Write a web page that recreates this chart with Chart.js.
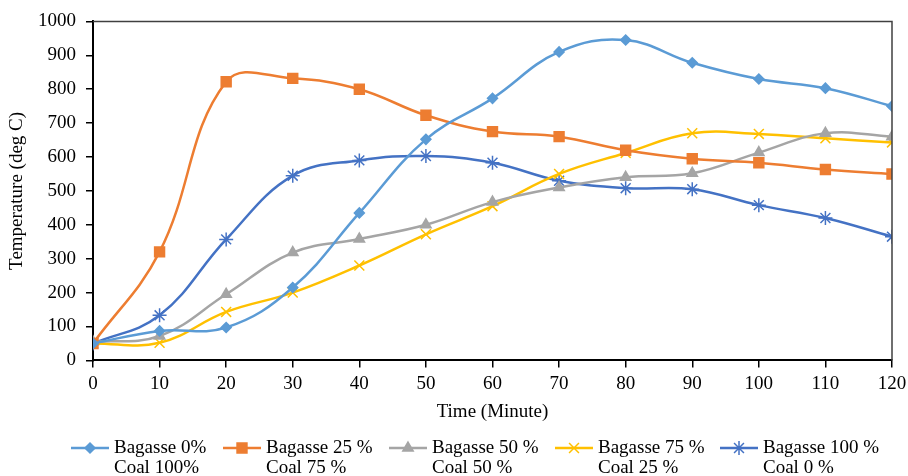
<!DOCTYPE html>
<html>
<head>
<meta charset="utf-8">
<script src="https://cdn.jsdelivr.net/npm/chart.js@4"></script>
<style>
  html, body { margin: 0; padding: 0; background: #fff; }
  #wrap { width: 908px; height: 476px; }
</style>
</head>
<body>
<div id="wrap"><canvas id="tempChart"></canvas></div>
<script>
// Time axis (minutes) and temperature readings per blend
const minutes = [0, 10, 20, 30, 40, 50, 60, 70, 80, 90, 100, 110, 120];
const bagasse0 = [50, 87, 97, 215, 435, 652, 773, 910, 945, 878, 830, 803, 750];
const bagasse25 = [50, 320, 822, 832, 800, 723, 675, 660, 620, 595, 583, 563, 550];
const bagasse50 = [55, 72, 195, 318, 358, 400, 467, 510, 540, 552, 613, 670, 660];
const bagasse75 = [50, 52, 143, 200, 280, 372, 455, 550, 612, 670, 668, 655, 643];
const bagasse100 = [50, 133, 357, 545, 590, 603, 583, 530, 508, 505, 458, 420, 365];
const seriesLabels = [
  ['Bagasse 0%', 'Coal 100%'],
  ['Bagasse 25 %', 'Coal 75 %'],
  ['Bagasse 50 %', 'Coal 50 %'],
  ['Bagasse 75 %', 'Coal 25 %'],
  ['Bagasse 100 %', 'Coal 0 %'],
];
const colors = ['#5B9BD5', '#ED7D31', '#A5A5A5', '#FFC000', '#4472C4'];
const markers = ['rectRot', 'rect', 'triangle', 'crossRot', 'star'];
const markerSize = [5, 7, 6, 7, 7];
const allValues = [bagasse0, bagasse25, bagasse50, bagasse75, bagasse100];

const FONT = "'Liberation Serif', 'Times New Roman', serif";

const toXY = arr => arr.map((v, i) => ({ x: minutes[i], y: v }));

// frame on top/right + two-line legend like the Excel one
const framePlugin = {
  id: 'frame',
  afterDraw(chart) {
    const { ctx, chartArea: a } = chart;
    ctx.save();
    ctx.strokeStyle = '#404040';
    ctx.lineWidth = 1.5;
    ctx.beginPath();
    ctx.moveTo(a.left, a.top);
    ctx.lineTo(a.right, a.top);
    ctx.lineTo(a.right, a.bottom);
    ctx.stroke();

    ctx.font = '19px ' + FONT;
    ctx.textBaseline = 'middle';
    const legendX = [71, 223, 389, 555, 720];
    const y1 = 448, y2 = 468;
    chart.data.datasets.forEach((ds, i) => {
      const x = legendX[i];
      ctx.strokeStyle = ds.borderColor;
      ctx.fillStyle = ds.backgroundColor;
      ctx.lineWidth = 2.5;
      ctx.beginPath();
      ctx.moveTo(x, y1);
      ctx.lineTo(x + 38, y1);
      ctx.stroke();
      ctx.lineWidth = 1.5;
      Chart.helpers.drawPoint(ctx, {
        pointStyle: ds.pointStyle,
        radius: ds.pointRadius,
        rotation: 0,
        borderWidth: 1.5
      }, x + 19, y1);
      ctx.fillStyle = '#000';
      ctx.fillText(ds.label[0], x + 43, y1);
      ctx.fillText(ds.label[1], x + 43, y2);
    });
    ctx.restore();
  }
};

new Chart(document.getElementById('tempChart'), {
  type: 'line',
  data: {
    datasets: allValues.map((vals, i) => ({
      label: seriesLabels[i],
      data: toXY(vals),
      borderColor: colors[i],
      backgroundColor: colors[i],
      pointStyle: markers[i],
      pointRadius: markerSize[i],
      pointBorderWidth: 1.5,
      borderWidth: 2.5,
      tension: 0.4,
      fill: false,
    })),
  },
  options: {
    responsive: true,
    maintainAspectRatio: false,
    animation: false,
    layout: { padding: { top: 20, right: 16, bottom: 45, left: 0 } },
    plugins: { legend: { display: false }, tooltip: { enabled: false } },
    scales: {
      x: {
        type: 'linear',
        min: 0, max: 120,
        afterFit: scale => { scale.paddingLeft = 0; scale.paddingRight = 0; },
        ticks: { stepSize: 10, color: '#000', font: { family: FONT, size: 19 }, padding: 5, maxRotation: 0 },
        grid: { drawOnChartArea: false, tickLength: 7, color: '#000', lineWidth: 1.5 },
        border: { color: '#000', width: 2 },
        title: { display: true, text: 'Time (Minute)', color: '#000', font: { family: FONT, size: 19 }, padding: { top: 0, bottom: 8 } },
      },
      y: {
        min: 0, max: 1000,
        afterFit: scale => { scale.width = 93; },
        ticks: { stepSize: 100, color: '#000', font: { family: FONT, size: 19 }, padding: 10, callback: v => String(v) },
        grid: { drawOnChartArea: false, tickLength: 7, color: '#000', lineWidth: 1.5 },
        border: { color: '#000', width: 2 },
        title: { display: true, text: 'Temperature (deg C)', color: '#000', font: { family: FONT, size: 19 }, padding: 6 },
      },
    },
  },
  plugins: [framePlugin],
});
</script>
</body>
</html>
